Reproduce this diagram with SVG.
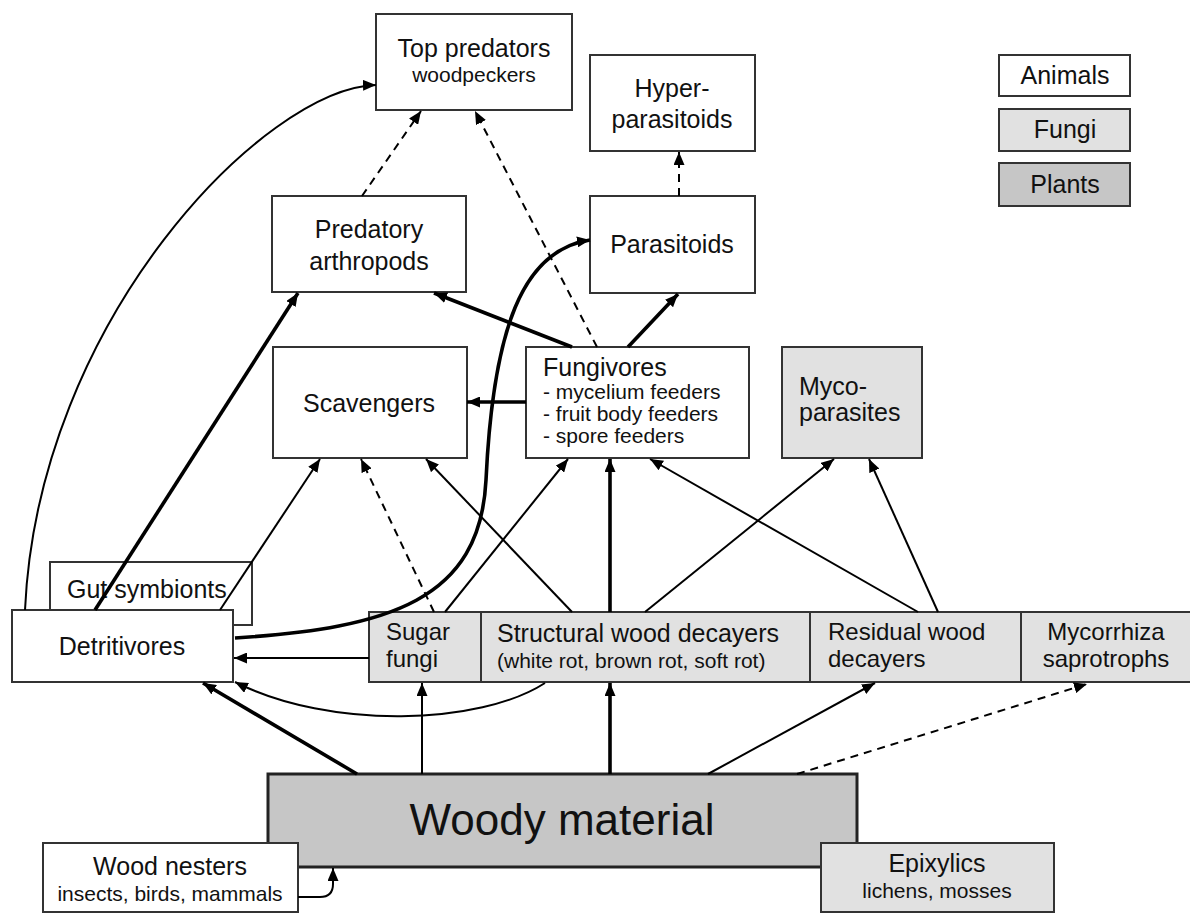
<svg xmlns="http://www.w3.org/2000/svg" width="1190" height="913" viewBox="0 0 1190 913">
<defs>
<style>
.box{fill:#fff;stroke:#333;stroke-width:2}
.fungi{fill:#e1e1e1;stroke:#333;stroke-width:2}
.plant{fill:#c6c6c6;stroke:#222;stroke-width:3}
.plantL{fill:#c6c6c6;stroke:#333;stroke-width:2}
text{font-family:"Liberation Sans",Arial,sans-serif;fill:#111}
.t{font-size:25px}
.t2{font-size:24px}
.s{font-size:21px}
.c{text-anchor:middle}
.thin{fill:none;stroke:#000;stroke-width:2;marker-end:url(#ah)}
.thick{fill:none;stroke:#000;stroke-width:3.6;marker-end:url(#ah)}
.dash{fill:none;stroke:#000;stroke-width:2;stroke-dasharray:8,6;marker-end:url(#ah)}
</style>
<marker id="ah" markerUnits="userSpaceOnUse" markerWidth="13" markerHeight="11" refX="13" refY="5.5" orient="auto">
<path d="M0,0 L13,5.5 L0,11 z" fill="#000"/>
</marker>
</defs>
<rect width="1190" height="913" fill="#fff"/>

<g id="legend-animals"><rect class="box" x="999" y="55" width="131" height="41"/><text class="t c" x="1065" y="84">Animals</text></g>
<g id="legend-fungi"><rect class="fungi" x="999" y="109" width="131" height="42"/><text class="t c" x="1065" y="138">Fungi</text></g>
<g id="legend-plants"><rect class="plantL" x="999" y="163" width="131" height="43"/><text class="t c" x="1065" y="193">Plants</text></g>

<g id="top-predators"><rect class="box" x="376" y="14" width="196" height="96"/><text class="t c" x="474" y="57">Top predators</text><text class="s c" x="474" y="82">woodpeckers</text></g>
<g id="hyper-parasitoids"><rect class="box" x="590" y="55" width="165" height="96"/><text class="t c" x="672" y="97">Hyper-</text><text class="t c" x="672" y="128">parasitoids</text></g>
<g id="predatory-arthropods"><rect class="box" x="272" y="196" width="194" height="96"/><text class="t c" x="369" y="238">Predatory</text><text class="t c" x="369" y="270">arthropods</text></g>
<g id="parasitoids"><rect class="box" x="590" y="196" width="165" height="97"/><text class="t c" x="672" y="253">Parasitoids</text></g>
<g id="scavengers"><rect class="box" x="273" y="347" width="194" height="111"/><text class="t c" x="369" y="412">Scavengers</text></g>
<g id="fungivores"><rect class="box" x="526" y="347" width="223" height="111"/><text class="t" x="543" y="376">Fungivores</text><text class="s" x="543" y="399">- mycelium feeders</text><text class="s" x="543" y="421">- fruit body feeders</text><text class="s" x="543" y="443">- spore feeders</text></g>
<g id="myco-parasites"><rect class="fungi" x="782" y="347" width="140" height="111"/><text class="t" x="799" y="395">Myco-</text><text class="t" x="799" y="421">parasites</text></g>
<g id="gut-symbionts"><rect class="box" x="50" y="562" width="202" height="63"/><text class="t" x="67" y="598">Gut symbionts</text></g>
<g id="detritivores"><rect class="box" x="12" y="610" width="221" height="72"/><text class="t c" x="122" y="655">Detritivores</text></g>
<g id="sugar-fungi"><rect class="fungi" x="369" y="612" width="112" height="70"/><text class="t2" x="386" y="640">Sugar</text><text class="t2" x="386" y="667">fungi</text></g>
<g id="structural-wood-decayers"><rect class="fungi" x="481" y="612" width="329" height="70"/><text class="t" x="497" y="642">Structural wood decayers</text><text class="s" x="497" y="668">(white rot, brown rot, soft rot)</text></g>
<g id="residual-wood-decayers"><rect class="fungi" x="810" y="612" width="211" height="70"/><text class="t2" x="828" y="640">Residual wood</text><text class="t2" x="828" y="667">decayers</text></g>
<g id="mycorrhiza-saprotrophs"><rect class="fungi" x="1021" y="612" width="174" height="70"/><text class="t2 c" x="1106" y="640">Mycorrhiza</text><text class="t2 c" x="1106" y="667">saprotrophs</text></g>
<g id="woody-material"><rect class="plant" x="268" y="774" width="589" height="93"/><text class="c" style="font-size:44px" x="562" y="835">Woody material</text></g>
<g id="wood-nesters"><rect class="box" x="43" y="843" width="255" height="69"/><text class="t c" x="170" y="875">Wood nesters</text><text class="s c" x="170" y="901">insects, birds, mammals</text></g>
<g id="epixylics"><rect class="fungi" x="821" y="843" width="233" height="69"/><text class="t c" x="937" y="872">Epixylics</text><text class="s c" x="937" y="898">lichens, mosses</text></g>

<g id="connectors">
<path class="thin" d="M25,610 C38,320 265,88 376,85"/>
<path class="thick" d="M95,610 L298,293"/>
<path class="thin" d="M220,610 L320,459"/>
<path class="thick" d="M235,638 C390,628 480,600 486,480 C493,330 522,250 590,240"/>
<path class="thick" d="M572,347 L434,293"/>
<path class="thick" d="M628,347 L678,294"/>
<path class="dash" d="M597,347 L475,111"/>
<path class="dash" d="M362,196 L421,111"/>
<path class="dash" d="M679,196 L679,152"/>
<path class="thick" d="M526,402 L467,402"/>
<path class="dash" d="M434,612 L361,459"/>
<path class="thin" d="M445,612 L568,459"/>
<path class="thin" d="M572,612 L426,459"/>
<path class="thick" d="M610,612 L610,459"/>
<path class="thin" d="M645,612 L834,459"/>
<path class="thin" d="M918,612 L650,459"/>
<path class="thin" d="M938,612 L869,459"/>
<path class="thin" d="M369,658 L234,658"/>
<path class="thin" d="M545,683 C480,725 330,730 235,682"/>
<path class="thick" d="M357,774 L203,683"/>
<path class="thin" d="M422,774 L422,683"/>
<path class="thick" d="M610,774 L610,683"/>
<path class="thin" d="M708,774 L875,683"/>
<path class="dash" d="M797,774 L1087,684"/>
<path class="thin" d="M298,897 L320,897 Q333,897 333,884 L333,868"/>
</g>
</svg>
